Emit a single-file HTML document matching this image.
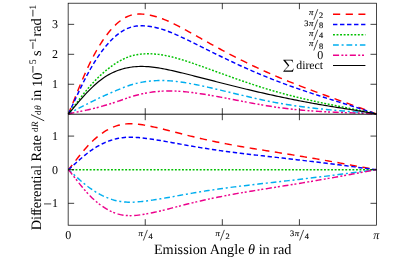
<!DOCTYPE html>
<html><head><meta charset="utf-8"><title>plot</title>
<style>
html,body{margin:0;padding:0;background:#fff;}
svg{display:block;will-change:transform;text-rendering:geometricPrecision;font-family:"Liberation Serif",serif;}
</style></head><body>
<svg width="416" height="261" viewBox="0 0 416 261">
<rect width="416" height="261" fill="#fff"/>
<g fill="none" stroke-linecap="butt" stroke-linejoin="round">
<path d="M68.40,114.00 L70.40,109.13 L72.40,104.18 L74.40,99.20 L76.40,94.22 L78.40,89.29 L80.40,84.43 L82.40,79.69 L84.41,75.07 L86.41,70.59 L88.41,66.27 L90.41,62.11 L92.41,58.13 L94.41,54.35 L96.41,50.75 L98.41,47.32 L100.41,44.08 L102.41,41.00 L104.41,38.09 L106.41,35.33 L108.41,32.74 L110.41,30.31 L112.41,28.04 L114.41,25.95 L116.42,24.03 L118.42,22.28 L120.42,20.70 L122.42,19.30 L124.42,18.07 L126.42,17.01 L128.42,16.12 L130.42,15.39 L132.42,14.83 L134.42,14.43 L136.42,14.17 L138.42,14.05 L140.42,14.04 L142.42,14.14 L144.42,14.32 L146.43,14.57 L148.43,14.89 L150.43,15.28 L152.43,15.72 L154.43,16.22 L156.43,16.78 L158.43,17.39 L160.43,18.07 L162.43,18.80 L164.43,19.58 L166.43,20.41 L168.43,21.28 L170.43,22.20 L172.43,23.15 L174.43,24.13 L176.44,25.15 L178.44,26.18 L180.44,27.23 L182.44,28.30 L184.44,29.38 L186.44,30.46 L188.44,31.56 L190.44,32.66 L192.44,33.77 L194.44,34.88 L196.44,35.99 L198.44,37.11 L200.44,38.23 L202.44,39.35 L204.44,40.46 L206.44,41.58 L208.45,42.69 L210.45,43.80 L212.45,44.90 L214.45,45.99 L216.45,47.09 L218.45,48.17 L220.45,49.25 L222.45,50.32 L224.45,51.39 L226.45,52.45 L228.45,53.51 L230.45,54.55 L232.45,55.59 L234.45,56.62 L236.45,57.65 L238.46,58.66 L240.46,59.67 L242.46,60.67 L244.46,61.66 L246.46,62.64 L248.46,63.62 L250.46,64.58 L252.46,65.54 L254.46,66.49 L256.46,67.43 L258.46,68.36 L260.46,69.28 L262.46,70.19 L264.46,71.10 L266.46,72.00 L268.46,72.89 L270.47,73.77 L272.47,74.64 L274.47,75.50 L276.47,76.36 L278.47,77.21 L280.47,78.05 L282.47,78.88 L284.47,79.70 L286.47,80.52 L288.47,81.33 L290.47,82.13 L292.47,82.93 L294.47,83.72 L296.47,84.51 L298.47,85.28 L300.48,86.06 L302.48,86.83 L304.48,87.59 L306.48,88.35 L308.48,89.11 L310.48,89.86 L312.48,90.61 L314.48,91.35 L316.48,92.09 L318.48,92.83 L320.48,93.56 L322.48,94.29 L324.48,95.02 L326.48,95.75 L328.48,96.48 L330.49,97.20 L332.49,97.93 L334.49,98.65 L336.49,99.37 L338.49,100.09 L340.49,100.81 L342.49,101.53 L344.49,102.25 L346.49,102.97 L348.49,103.69 L350.49,104.42 L352.49,105.14 L354.49,105.87 L356.49,106.59 L358.49,107.32 L360.49,108.05 L362.50,108.79 L364.50,109.52 L366.50,110.26 L368.50,111.00 L370.50,111.75 L372.50,112.49 L374.50,113.25 L376.50,114.00" stroke="#ff0000" stroke-width="1.45" stroke-dasharray="7.2 5.5" stroke-dashoffset="0.8"/>
<path d="M68.40,114.00 L70.40,109.76 L72.40,105.47 L74.40,101.16 L76.40,96.85 L78.40,92.58 L80.40,88.38 L82.40,84.27 L84.41,80.27 L86.41,76.38 L88.41,72.63 L90.41,69.01 L92.41,65.55 L94.41,62.24 L96.41,59.10 L98.41,56.10 L100.41,53.25 L102.41,50.54 L104.41,47.97 L106.41,45.53 L108.41,43.23 L110.41,41.07 L112.41,39.04 L114.41,37.16 L116.42,35.42 L118.42,33.83 L120.42,32.38 L122.42,31.08 L124.42,29.93 L126.42,28.92 L128.42,28.06 L130.42,27.34 L132.42,26.77 L134.42,26.35 L136.42,26.05 L138.42,25.86 L140.42,25.79 L142.42,25.80 L144.42,25.90 L146.43,26.06 L148.43,26.29 L150.43,26.57 L152.43,26.90 L154.43,27.29 L156.43,27.73 L158.43,28.23 L160.43,28.78 L162.43,29.39 L164.43,30.04 L166.43,30.74 L168.43,31.49 L170.43,32.27 L172.43,33.09 L174.43,33.93 L176.44,34.81 L178.44,35.71 L180.44,36.63 L182.44,37.56 L184.44,38.50 L186.44,39.46 L188.44,40.42 L190.44,41.40 L192.44,42.38 L194.44,43.37 L196.44,44.36 L198.44,45.35 L200.44,46.35 L202.44,47.35 L204.44,48.35 L206.44,49.35 L208.45,50.35 L210.45,51.35 L212.45,52.34 L214.45,53.32 L216.45,54.31 L218.45,55.29 L220.45,56.26 L222.45,57.24 L224.45,58.20 L226.45,59.16 L228.45,60.12 L230.45,61.07 L232.45,62.01 L234.45,62.95 L236.45,63.88 L238.46,64.80 L240.46,65.72 L242.46,66.63 L244.46,67.53 L246.46,68.42 L248.46,69.31 L250.46,70.19 L252.46,71.06 L254.46,71.92 L256.46,72.78 L258.46,73.62 L260.46,74.46 L262.46,75.30 L264.46,76.12 L266.46,76.93 L268.46,77.74 L270.47,78.54 L272.47,79.33 L274.47,80.11 L276.47,80.88 L278.47,81.64 L280.47,82.40 L282.47,83.15 L284.47,83.89 L286.47,84.62 L288.47,85.35 L290.47,86.07 L292.47,86.78 L294.47,87.48 L296.47,88.18 L298.47,88.88 L300.48,89.57 L302.48,90.25 L304.48,90.93 L306.48,91.60 L308.48,92.27 L310.48,92.93 L312.48,93.59 L314.48,94.24 L316.48,94.89 L318.48,95.54 L320.48,96.19 L322.48,96.83 L324.48,97.47 L326.48,98.11 L328.48,98.74 L330.49,99.37 L332.49,100.00 L334.49,100.63 L336.49,101.26 L338.49,101.89 L340.49,102.52 L342.49,103.14 L344.49,103.77 L346.49,104.39 L348.49,105.02 L350.49,105.64 L352.49,106.27 L354.49,106.90 L356.49,107.53 L358.49,108.16 L360.49,108.80 L362.50,109.44 L364.50,110.08 L366.50,110.72 L368.50,111.37 L370.50,112.02 L372.50,112.67 L374.50,113.33 L376.50,114.00" stroke="#0000ff" stroke-width="1.45" stroke-dasharray="4.4 2.62" stroke-dashoffset="0"/>
<path d="M68.40,114.00 L70.40,111.30 L72.40,108.60 L74.40,105.89 L76.40,103.19 L78.40,100.53 L80.40,97.90 L82.40,95.33 L84.41,92.81 L86.41,90.36 L88.41,87.98 L90.41,85.67 L92.41,83.45 L94.41,81.31 L96.41,79.25 L98.41,77.28 L100.41,75.38 L102.41,73.57 L104.41,71.82 L106.41,70.15 L108.41,68.56 L110.41,67.04 L112.41,65.59 L114.41,64.22 L116.42,62.93 L118.42,61.71 L120.42,60.57 L122.42,59.52 L124.42,58.55 L126.42,57.68 L128.42,56.89 L130.42,56.20 L132.42,55.61 L134.42,55.11 L136.42,54.71 L138.42,54.39 L140.42,54.15 L142.42,53.98 L144.42,53.86 L146.43,53.80 L148.43,53.79 L150.43,53.82 L152.43,53.90 L154.43,54.02 L156.43,54.19 L158.43,54.40 L160.43,54.66 L162.43,54.96 L164.43,55.31 L166.43,55.69 L168.43,56.12 L170.43,56.58 L172.43,57.07 L174.43,57.59 L176.44,58.14 L178.44,58.71 L180.44,59.30 L182.44,59.91 L184.44,60.54 L186.44,61.18 L188.44,61.83 L190.44,62.50 L192.44,63.18 L194.44,63.86 L196.44,64.56 L198.44,65.26 L200.44,65.97 L202.44,66.68 L204.44,67.40 L206.44,68.12 L208.45,68.84 L210.45,69.57 L212.45,70.29 L214.45,71.02 L216.45,71.75 L218.45,72.47 L220.45,73.20 L222.45,73.92 L224.45,74.64 L226.45,75.36 L228.45,76.08 L230.45,76.79 L232.45,77.51 L234.45,78.21 L236.45,78.92 L238.46,79.62 L240.46,80.32 L242.46,81.01 L244.46,81.70 L246.46,82.38 L248.46,83.05 L250.46,83.72 L252.46,84.39 L254.46,85.05 L256.46,85.70 L258.46,86.34 L260.46,86.98 L262.46,87.61 L264.46,88.23 L266.46,88.85 L268.46,89.45 L270.47,90.05 L272.47,90.64 L274.47,91.22 L276.47,91.80 L278.47,92.36 L280.47,92.91 L282.47,93.46 L284.47,94.00 L286.47,94.53 L288.47,95.05 L290.47,95.56 L292.47,96.07 L294.47,96.57 L296.47,97.06 L298.47,97.55 L300.48,98.03 L302.48,98.50 L304.48,98.97 L306.48,99.43 L308.48,99.89 L310.48,100.34 L312.48,100.79 L314.48,101.23 L316.48,101.67 L318.48,102.10 L320.48,102.53 L322.48,102.95 L324.48,103.37 L326.48,103.79 L328.48,104.20 L330.49,104.62 L332.49,105.02 L334.49,105.43 L336.49,105.83 L338.49,106.23 L340.49,106.63 L342.49,107.03 L344.49,107.42 L346.49,107.82 L348.49,108.21 L350.49,108.61 L352.49,109.00 L354.49,109.40 L356.49,109.79 L358.49,110.19 L360.49,110.59 L362.50,111.00 L364.50,111.41 L366.50,111.83 L368.50,112.25 L370.50,112.67 L372.50,113.11 L374.50,113.55 L376.50,114.00" stroke="#00c000" stroke-width="1.45" stroke-dasharray="1.9 1.65" stroke-dashoffset="0"/>
<path d="M68.40,114.00 L70.40,112.84 L72.40,111.72 L74.40,110.62 L76.40,109.54 L78.40,108.47 L80.40,107.42 L82.40,106.39 L84.41,105.36 L86.41,104.34 L88.41,103.33 L90.41,102.33 L92.41,101.35 L94.41,100.37 L96.41,99.41 L98.41,98.46 L100.41,97.52 L102.41,96.59 L104.41,95.68 L106.41,94.78 L108.41,93.89 L110.41,93.01 L112.41,92.14 L114.41,91.28 L116.42,90.43 L118.42,89.59 L120.42,88.77 L122.42,87.96 L124.42,87.18 L126.42,86.43 L128.42,85.72 L130.42,85.05 L132.42,84.44 L134.42,83.88 L136.42,83.37 L138.42,82.92 L140.42,82.51 L142.42,82.15 L144.42,81.83 L146.43,81.54 L148.43,81.29 L150.43,81.07 L152.43,80.89 L154.43,80.75 L156.43,80.64 L158.43,80.57 L160.43,80.53 L162.43,80.53 L164.43,80.57 L166.43,80.64 L168.43,80.75 L170.43,80.89 L172.43,81.05 L174.43,81.25 L176.44,81.47 L178.44,81.72 L180.44,81.98 L182.44,82.27 L184.44,82.58 L186.44,82.90 L188.44,83.24 L190.44,83.60 L192.44,83.97 L194.44,84.36 L196.44,84.75 L198.44,85.16 L200.44,85.58 L202.44,86.01 L204.44,86.45 L206.44,86.89 L208.45,87.34 L210.45,87.79 L212.45,88.25 L214.45,88.72 L216.45,89.18 L218.45,89.65 L220.45,90.13 L222.45,90.60 L224.45,91.08 L226.45,91.56 L228.45,92.04 L230.45,92.52 L232.45,93.00 L234.45,93.48 L236.45,93.96 L238.46,94.44 L240.46,94.92 L242.46,95.39 L244.46,95.86 L246.46,96.33 L248.46,96.80 L250.46,97.26 L252.46,97.72 L254.46,98.17 L256.46,98.62 L258.46,99.06 L260.46,99.50 L262.46,99.93 L264.46,100.35 L266.46,100.76 L268.46,101.17 L270.47,101.57 L272.47,101.96 L274.47,102.34 L276.47,102.71 L278.47,103.08 L280.47,103.43 L282.47,103.77 L284.47,104.11 L286.47,104.43 L288.47,104.75 L290.47,105.06 L292.47,105.36 L294.47,105.66 L296.47,105.95 L298.47,106.22 L300.48,106.50 L302.48,106.76 L304.48,107.02 L306.48,107.27 L308.48,107.52 L310.48,107.76 L312.48,107.99 L314.48,108.22 L316.48,108.44 L318.48,108.66 L320.48,108.87 L322.48,109.07 L324.48,109.28 L326.48,109.47 L328.48,109.67 L330.49,109.86 L332.49,110.04 L334.49,110.22 L336.49,110.40 L338.49,110.58 L340.49,110.75 L342.49,110.92 L344.49,111.08 L346.49,111.25 L348.49,111.41 L350.49,111.57 L352.49,111.73 L354.49,111.89 L356.49,112.05 L358.49,112.22 L360.49,112.39 L362.50,112.56 L364.50,112.75 L366.50,112.93 L368.50,113.13 L370.50,113.33 L372.50,113.54 L374.50,113.77 L376.50,114.00" stroke="#00aeef" stroke-width="1.45" stroke-dasharray="5.8 2.8 2.0 2.85" stroke-dashoffset="1.85"/>
<path d="M68.40,114.00 L70.40,113.48 L72.40,113.01 L74.40,112.58 L76.40,112.17 L78.40,111.77 L80.40,111.37 L82.40,110.97 L84.41,110.55 L86.41,110.13 L88.41,109.69 L90.41,109.23 L92.41,108.76 L94.41,108.27 L96.41,107.76 L98.41,107.23 L100.41,106.69 L102.41,106.13 L104.41,105.56 L106.41,104.98 L108.41,104.38 L110.41,103.76 L112.41,103.13 L114.41,102.49 L116.42,101.82 L118.42,101.14 L120.42,100.45 L122.42,99.74 L124.42,99.04 L126.42,98.34 L128.42,97.66 L130.42,97.00 L132.42,96.38 L134.42,95.79 L136.42,95.25 L138.42,94.74 L140.42,94.26 L142.42,93.82 L144.42,93.41 L146.43,93.03 L148.43,92.68 L150.43,92.36 L152.43,92.08 L154.43,91.82 L156.43,91.60 L158.43,91.41 L160.43,91.25 L162.43,91.13 L164.43,91.04 L166.43,90.98 L168.43,90.95 L170.43,90.96 L172.43,90.99 L174.43,91.05 L176.44,91.13 L178.44,91.24 L180.44,91.38 L182.44,91.53 L184.44,91.71 L186.44,91.90 L188.44,92.11 L190.44,92.34 L192.44,92.59 L194.44,92.85 L196.44,93.12 L198.44,93.41 L200.44,93.71 L202.44,94.02 L204.44,94.34 L206.44,94.66 L208.45,95.00 L210.45,95.34 L212.45,95.69 L214.45,96.05 L216.45,96.41 L218.45,96.77 L220.45,97.14 L222.45,97.51 L224.45,97.89 L226.45,98.27 L228.45,98.65 L230.45,99.04 L232.45,99.42 L234.45,99.81 L236.45,100.19 L238.46,100.58 L240.46,100.96 L242.46,101.35 L244.46,101.73 L246.46,102.11 L248.46,102.49 L250.46,102.87 L252.46,103.24 L254.46,103.61 L256.46,103.97 L258.46,104.33 L260.46,104.68 L262.46,105.03 L264.46,105.37 L266.46,105.70 L268.46,106.02 L270.47,106.34 L272.47,106.65 L274.47,106.95 L276.47,107.24 L278.47,107.51 L280.47,107.78 L282.47,108.04 L284.47,108.30 L286.47,108.54 L288.47,108.77 L290.47,109.00 L292.47,109.21 L294.47,109.42 L296.47,109.62 L298.47,109.82 L300.48,110.00 L302.48,110.18 L304.48,110.35 L306.48,110.52 L308.48,110.68 L310.48,110.83 L312.48,110.97 L314.48,111.11 L316.48,111.24 L318.48,111.37 L320.48,111.49 L322.48,111.61 L324.48,111.72 L326.48,111.83 L328.48,111.93 L330.49,112.03 L332.49,112.12 L334.49,112.21 L336.49,112.29 L338.49,112.38 L340.49,112.45 L342.49,112.53 L344.49,112.60 L346.49,112.66 L348.49,112.73 L350.49,112.79 L352.49,112.86 L354.49,112.92 L356.49,112.99 L358.49,113.06 L360.49,113.13 L362.50,113.21 L364.50,113.30 L366.50,113.39 L368.50,113.49 L370.50,113.60 L372.50,113.72 L374.50,113.86 L376.50,114.00" stroke="#ec008c" stroke-width="1.45" stroke-dasharray="6.1 2.3 2.0 1.8 2.0 2.6" stroke-dashoffset="0"/>
<path d="M68.40,114.00 L70.40,111.70 L72.40,109.35 L74.40,106.98 L76.40,104.59 L78.40,102.22 L80.40,99.88 L82.40,97.59 L84.41,95.36 L86.41,93.19 L88.41,91.09 L90.41,89.06 L92.41,87.11 L94.41,85.25 L96.41,83.47 L98.41,81.79 L100.41,80.20 L102.41,78.71 L104.41,77.33 L106.41,76.04 L108.41,74.85 L110.41,73.76 L112.41,72.75 L114.41,71.84 L116.42,71.01 L118.42,70.25 L120.42,69.58 L122.42,68.97 L124.42,68.44 L126.42,67.98 L128.42,67.58 L130.42,67.25 L132.42,66.97 L134.42,66.76 L136.42,66.61 L138.42,66.51 L140.42,66.46 L142.42,66.46 L144.42,66.50 L146.43,66.59 L148.43,66.72 L150.43,66.89 L152.43,67.10 L154.43,67.34 L156.43,67.62 L158.43,67.92 L160.43,68.25 L162.43,68.60 L164.43,68.98 L166.43,69.37 L168.43,69.79 L170.43,70.22 L172.43,70.66 L174.43,71.12 L176.44,71.59 L178.44,72.06 L180.44,72.55 L182.44,73.04 L184.44,73.53 L186.44,74.03 L188.44,74.53 L190.44,75.03 L192.44,75.54 L194.44,76.05 L196.44,76.56 L198.44,77.07 L200.44,77.58 L202.44,78.10 L204.44,78.61 L206.44,79.13 L208.45,79.65 L210.45,80.16 L212.45,80.68 L214.45,81.19 L216.45,81.71 L218.45,82.22 L220.45,82.73 L222.45,83.25 L224.45,83.76 L226.45,84.26 L228.45,84.77 L230.45,85.28 L232.45,85.78 L234.45,86.28 L236.45,86.78 L238.46,87.27 L240.46,87.76 L242.46,88.25 L244.46,88.74 L246.46,89.22 L248.46,89.70 L250.46,90.17 L252.46,90.65 L254.46,91.12 L256.46,91.58 L258.46,92.05 L260.46,92.51 L262.46,92.96 L264.46,93.41 L266.46,93.86 L268.46,94.31 L270.47,94.75 L272.47,95.19 L274.47,95.63 L276.47,96.06 L278.47,96.49 L280.47,96.92 L282.47,97.34 L284.47,97.76 L286.47,98.18 L288.47,98.59 L290.47,98.99 L292.47,99.40 L294.47,99.80 L296.47,100.20 L298.47,100.59 L300.48,100.98 L302.48,101.36 L304.48,101.74 L306.48,102.12 L308.48,102.49 L310.48,102.86 L312.48,103.22 L314.48,103.58 L316.48,103.94 L318.48,104.29 L320.48,104.64 L322.48,104.98 L324.48,105.32 L326.48,105.66 L328.48,106.00 L330.49,106.33 L332.49,106.66 L334.49,106.99 L336.49,107.31 L338.49,107.63 L340.49,107.95 L342.49,108.27 L344.49,108.59 L346.49,108.90 L348.49,109.22 L350.49,109.53 L352.49,109.84 L354.49,110.16 L356.49,110.48 L358.49,110.80 L360.49,111.13 L362.50,111.46 L364.50,111.80 L366.50,112.14 L368.50,112.49 L370.50,112.86 L372.50,113.23 L374.50,113.61 L376.50,114.00" stroke="#000" stroke-width="1.2"/>
<path d="M68.40,169.70 L70.40,167.25 L72.40,164.73 L74.40,162.17 L76.40,159.60 L78.40,157.04 L80.40,154.53 L82.40,152.09 L84.41,149.72 L86.41,147.43 L88.41,145.25 L90.41,143.16 L92.41,141.19 L94.41,139.33 L96.41,137.59 L98.41,135.96 L100.41,134.44 L102.41,133.02 L104.41,131.70 L106.41,130.48 L108.41,129.35 L110.41,128.33 L112.41,127.41 L114.41,126.60 L116.42,125.89 L118.42,125.28 L120.42,124.79 L122.42,124.40 L124.42,124.10 L126.42,123.90 L128.42,123.78 L130.42,123.74 L132.42,123.77 L134.42,123.88 L136.42,124.04 L138.42,124.26 L140.42,124.52 L142.42,124.82 L144.42,125.16 L146.43,125.51 L148.43,125.89 L150.43,126.29 L152.43,126.70 L154.43,127.12 L156.43,127.56 L158.43,128.02 L160.43,128.48 L162.43,128.96 L164.43,129.45 L166.43,129.95 L168.43,130.46 L170.43,130.98 L172.43,131.49 L174.43,132.01 L176.44,132.54 L178.44,133.06 L180.44,133.57 L182.44,134.09 L184.44,134.60 L186.44,135.10 L188.44,135.60 L190.44,136.09 L192.44,136.57 L194.44,137.05 L196.44,137.53 L198.44,137.99 L200.44,138.46 L202.44,138.91 L204.44,139.36 L206.44,139.80 L208.45,140.24 L210.45,140.67 L212.45,141.09 L214.45,141.51 L216.45,141.92 L218.45,142.33 L220.45,142.73 L222.45,143.12 L224.45,143.51 L226.45,143.90 L228.45,144.27 L230.45,144.65 L232.45,145.02 L234.45,145.38 L236.45,145.74 L238.46,146.09 L240.46,146.44 L242.46,146.79 L244.46,147.13 L246.46,147.47 L248.46,147.81 L250.46,148.14 L252.46,148.47 L254.46,148.79 L256.46,149.12 L258.46,149.44 L260.46,149.76 L262.46,150.08 L264.46,150.40 L266.46,150.72 L268.46,151.04 L270.47,151.36 L272.47,151.67 L274.47,151.99 L276.47,152.31 L278.47,152.63 L280.47,152.95 L282.47,153.27 L284.47,153.60 L286.47,153.92 L288.47,154.24 L290.47,154.57 L292.47,154.90 L294.47,155.22 L296.47,155.55 L298.47,155.88 L300.48,156.22 L302.48,156.55 L304.48,156.88 L306.48,157.22 L308.48,157.55 L310.48,157.89 L312.48,158.23 L314.48,158.57 L316.48,158.91 L318.48,159.26 L320.48,159.60 L322.48,159.95 L324.48,160.30 L326.48,160.65 L328.48,161.00 L330.49,161.35 L332.49,161.70 L334.49,162.06 L336.49,162.42 L338.49,162.78 L340.49,163.14 L342.49,163.51 L344.49,163.87 L346.49,164.24 L348.49,164.61 L350.49,164.98 L352.49,165.35 L354.49,165.73 L356.49,166.10 L358.49,166.47 L360.49,166.84 L362.50,167.21 L364.50,167.57 L366.50,167.94 L368.50,168.30 L370.50,168.66 L372.50,169.01 L374.50,169.36 L376.50,169.70" stroke="#ff0000" stroke-width="1.45" stroke-dasharray="7.2 5.5" stroke-dashoffset="1.1"/>
<path d="M68.40,169.70 L70.40,167.96 L72.40,166.18 L74.40,164.37 L76.40,162.55 L78.40,160.75 L80.40,158.97 L82.40,157.24 L84.41,155.57 L86.41,153.96 L88.41,152.41 L90.41,150.93 L92.41,149.54 L94.41,148.23 L96.41,146.99 L98.41,145.84 L100.41,144.77 L102.41,143.76 L104.41,142.83 L106.41,141.96 L108.41,141.17 L110.41,140.45 L112.41,139.80 L114.41,139.22 L116.42,138.72 L118.42,138.29 L120.42,137.94 L122.42,137.67 L124.42,137.46 L126.42,137.31 L128.42,137.23 L130.42,137.20 L132.42,137.23 L134.42,137.30 L136.42,137.41 L138.42,137.57 L140.42,137.75 L142.42,137.97 L144.42,138.20 L146.43,138.46 L148.43,138.72 L150.43,139.00 L152.43,139.29 L154.43,139.59 L156.43,139.90 L158.43,140.23 L160.43,140.56 L162.43,140.90 L164.43,141.24 L166.43,141.60 L168.43,141.95 L170.43,142.32 L172.43,142.68 L174.43,143.05 L176.44,143.42 L178.44,143.79 L180.44,144.16 L182.44,144.52 L184.44,144.88 L186.44,145.23 L188.44,145.59 L190.44,145.93 L192.44,146.28 L194.44,146.62 L196.44,146.95 L198.44,147.28 L200.44,147.61 L202.44,147.93 L204.44,148.25 L206.44,148.56 L208.45,148.87 L210.45,149.17 L212.45,149.47 L214.45,149.77 L216.45,150.06 L218.45,150.35 L220.45,150.63 L222.45,150.91 L224.45,151.18 L226.45,151.45 L228.45,151.72 L230.45,151.99 L232.45,152.25 L234.45,152.50 L236.45,152.76 L238.46,153.01 L240.46,153.26 L242.46,153.50 L244.46,153.74 L246.46,153.98 L248.46,154.22 L250.46,154.45 L252.46,154.69 L254.46,154.92 L256.46,155.15 L258.46,155.37 L260.46,155.60 L262.46,155.83 L264.46,156.05 L266.46,156.28 L268.46,156.50 L270.47,156.73 L272.47,156.95 L274.47,157.18 L276.47,157.40 L278.47,157.63 L280.47,157.86 L282.47,158.08 L284.47,158.31 L286.47,158.54 L288.47,158.77 L290.47,159.00 L292.47,159.23 L294.47,159.46 L296.47,159.70 L298.47,159.93 L300.48,160.16 L302.48,160.40 L304.48,160.64 L306.48,160.87 L308.48,161.11 L310.48,161.35 L312.48,161.59 L314.48,161.83 L316.48,162.07 L318.48,162.31 L320.48,162.56 L322.48,162.80 L324.48,163.05 L326.48,163.30 L328.48,163.55 L330.49,163.80 L332.49,164.05 L334.49,164.30 L336.49,164.55 L338.49,164.81 L340.49,165.06 L342.49,165.32 L344.49,165.58 L346.49,165.84 L348.49,166.10 L350.49,166.36 L352.49,166.63 L354.49,166.89 L356.49,167.15 L358.49,167.42 L360.49,167.68 L362.50,167.94 L364.50,168.20 L366.50,168.45 L368.50,168.71 L370.50,168.96 L372.50,169.21 L374.50,169.46 L376.50,169.70" stroke="#0000ff" stroke-width="1.45" stroke-dasharray="4.4 2.62" stroke-dashoffset="0"/>
<path d="M68.40,169.70 L70.40,169.70 L72.40,169.70 L74.40,169.70 L76.40,169.70 L78.40,169.70 L80.40,169.70 L82.40,169.70 L84.41,169.70 L86.41,169.70 L88.41,169.70 L90.41,169.70 L92.41,169.70 L94.41,169.70 L96.41,169.70 L98.41,169.70 L100.41,169.70 L102.41,169.70 L104.41,169.70 L106.41,169.70 L108.41,169.70 L110.41,169.70 L112.41,169.70 L114.41,169.70 L116.42,169.70 L118.42,169.70 L120.42,169.70 L122.42,169.70 L124.42,169.70 L126.42,169.70 L128.42,169.70 L130.42,169.70 L132.42,169.70 L134.42,169.70 L136.42,169.70 L138.42,169.70 L140.42,169.70 L142.42,169.70 L144.42,169.70 L146.43,169.70 L148.43,169.70 L150.43,169.70 L152.43,169.70 L154.43,169.70 L156.43,169.70 L158.43,169.70 L160.43,169.70 L162.43,169.70 L164.43,169.70 L166.43,169.70 L168.43,169.70 L170.43,169.70 L172.43,169.70 L174.43,169.70 L176.44,169.70 L178.44,169.70 L180.44,169.70 L182.44,169.70 L184.44,169.70 L186.44,169.70 L188.44,169.70 L190.44,169.70 L192.44,169.70 L194.44,169.70 L196.44,169.70 L198.44,169.70 L200.44,169.70 L202.44,169.70 L204.44,169.70 L206.44,169.70 L208.45,169.70 L210.45,169.70 L212.45,169.70 L214.45,169.70 L216.45,169.70 L218.45,169.70 L220.45,169.70 L222.45,169.70 L224.45,169.70 L226.45,169.70 L228.45,169.70 L230.45,169.70 L232.45,169.70 L234.45,169.70 L236.45,169.70 L238.46,169.70 L240.46,169.70 L242.46,169.70 L244.46,169.70 L246.46,169.70 L248.46,169.70 L250.46,169.70 L252.46,169.70 L254.46,169.70 L256.46,169.70 L258.46,169.70 L260.46,169.70 L262.46,169.70 L264.46,169.70 L266.46,169.70 L268.46,169.70 L270.47,169.70 L272.47,169.70 L274.47,169.70 L276.47,169.70 L278.47,169.70 L280.47,169.70 L282.47,169.70 L284.47,169.70 L286.47,169.70 L288.47,169.70 L290.47,169.70 L292.47,169.70 L294.47,169.70 L296.47,169.70 L298.47,169.70 L300.48,169.70 L302.48,169.70 L304.48,169.70 L306.48,169.70 L308.48,169.70 L310.48,169.70 L312.48,169.70 L314.48,169.70 L316.48,169.70 L318.48,169.70 L320.48,169.70 L322.48,169.70 L324.48,169.70 L326.48,169.70 L328.48,169.70 L330.49,169.70 L332.49,169.70 L334.49,169.70 L336.49,169.70 L338.49,169.70 L340.49,169.70 L342.49,169.70 L344.49,169.70 L346.49,169.70 L348.49,169.70 L350.49,169.70 L352.49,169.70 L354.49,169.70 L356.49,169.70 L358.49,169.70 L360.49,169.70 L362.50,169.70 L364.50,169.70 L366.50,169.70 L368.50,169.70 L370.50,169.70 L372.50,169.70 L374.50,169.70 L376.50,169.70" stroke="#00c000" stroke-width="1.45" stroke-dasharray="1.9 1.65" stroke-dashoffset="0"/>
<path d="M68.40,169.70 L70.40,171.44 L72.40,173.22 L74.40,175.03 L76.40,176.85 L78.40,178.65 L80.40,180.43 L82.40,182.16 L84.41,183.83 L86.41,185.44 L88.41,186.99 L90.41,188.47 L92.41,189.86 L94.41,191.17 L96.41,192.41 L98.41,193.56 L100.41,194.63 L102.41,195.64 L104.41,196.57 L106.41,197.44 L108.41,198.23 L110.41,198.95 L112.41,199.60 L114.41,200.18 L116.42,200.68 L118.42,201.11 L120.42,201.46 L122.42,201.73 L124.42,201.94 L126.42,202.09 L128.42,202.17 L130.42,202.20 L132.42,202.17 L134.42,202.10 L136.42,201.99 L138.42,201.83 L140.42,201.65 L142.42,201.43 L144.42,201.20 L146.43,200.94 L148.43,200.68 L150.43,200.40 L152.43,200.11 L154.43,199.81 L156.43,199.50 L158.43,199.17 L160.43,198.84 L162.43,198.50 L164.43,198.16 L166.43,197.80 L168.43,197.45 L170.43,197.08 L172.43,196.72 L174.43,196.35 L176.44,195.98 L178.44,195.61 L180.44,195.24 L182.44,194.88 L184.44,194.52 L186.44,194.17 L188.44,193.81 L190.44,193.47 L192.44,193.12 L194.44,192.78 L196.44,192.45 L198.44,192.12 L200.44,191.79 L202.44,191.47 L204.44,191.15 L206.44,190.84 L208.45,190.53 L210.45,190.23 L212.45,189.93 L214.45,189.63 L216.45,189.34 L218.45,189.05 L220.45,188.77 L222.45,188.49 L224.45,188.22 L226.45,187.95 L228.45,187.68 L230.45,187.41 L232.45,187.15 L234.45,186.90 L236.45,186.64 L238.46,186.39 L240.46,186.14 L242.46,185.90 L244.46,185.66 L246.46,185.42 L248.46,185.18 L250.46,184.95 L252.46,184.71 L254.46,184.48 L256.46,184.25 L258.46,184.03 L260.46,183.80 L262.46,183.57 L264.46,183.35 L266.46,183.12 L268.46,182.90 L270.47,182.67 L272.47,182.45 L274.47,182.22 L276.47,182.00 L278.47,181.77 L280.47,181.54 L282.47,181.32 L284.47,181.09 L286.47,180.86 L288.47,180.63 L290.47,180.40 L292.47,180.17 L294.47,179.94 L296.47,179.70 L298.47,179.47 L300.48,179.24 L302.48,179.00 L304.48,178.76 L306.48,178.53 L308.48,178.29 L310.48,178.05 L312.48,177.81 L314.48,177.57 L316.48,177.33 L318.48,177.09 L320.48,176.84 L322.48,176.60 L324.48,176.35 L326.48,176.10 L328.48,175.85 L330.49,175.60 L332.49,175.35 L334.49,175.10 L336.49,174.85 L338.49,174.59 L340.49,174.34 L342.49,174.08 L344.49,173.82 L346.49,173.56 L348.49,173.30 L350.49,173.04 L352.49,172.77 L354.49,172.51 L356.49,172.25 L358.49,171.98 L360.49,171.72 L362.50,171.46 L364.50,171.20 L366.50,170.95 L368.50,170.69 L370.50,170.44 L372.50,170.19 L374.50,169.94 L376.50,169.70" stroke="#00aeef" stroke-width="1.45" stroke-dasharray="5.8 2.8 2.0 2.85" stroke-dashoffset="1.6"/>
<path d="M68.40,169.70 L70.40,172.15 L72.40,174.67 L74.40,177.23 L76.40,179.80 L78.40,182.36 L80.40,184.87 L82.40,187.31 L84.41,189.68 L86.41,191.97 L88.41,194.15 L90.41,196.24 L92.41,198.21 L94.41,200.07 L96.41,201.81 L98.41,203.44 L100.41,204.96 L102.41,206.38 L104.41,207.70 L106.41,208.92 L108.41,210.05 L110.41,211.07 L112.41,211.99 L114.41,212.80 L116.42,213.51 L118.42,214.12 L120.42,214.61 L122.42,215.00 L124.42,215.30 L126.42,215.50 L128.42,215.62 L130.42,215.66 L132.42,215.63 L134.42,215.52 L136.42,215.36 L138.42,215.14 L140.42,214.88 L142.42,214.58 L144.42,214.24 L146.43,213.89 L148.43,213.51 L150.43,213.11 L152.43,212.70 L154.43,212.28 L156.43,211.84 L158.43,211.38 L160.43,210.92 L162.43,210.44 L164.43,209.95 L166.43,209.45 L168.43,208.94 L170.43,208.42 L172.43,207.91 L174.43,207.39 L176.44,206.86 L178.44,206.34 L180.44,205.83 L182.44,205.31 L184.44,204.80 L186.44,204.30 L188.44,203.80 L190.44,203.31 L192.44,202.83 L194.44,202.35 L196.44,201.87 L198.44,201.41 L200.44,200.94 L202.44,200.49 L204.44,200.04 L206.44,199.60 L208.45,199.16 L210.45,198.73 L212.45,198.31 L214.45,197.89 L216.45,197.48 L218.45,197.07 L220.45,196.67 L222.45,196.28 L224.45,195.89 L226.45,195.50 L228.45,195.13 L230.45,194.75 L232.45,194.38 L234.45,194.02 L236.45,193.66 L238.46,193.31 L240.46,192.96 L242.46,192.61 L244.46,192.27 L246.46,191.93 L248.46,191.59 L250.46,191.26 L252.46,190.93 L254.46,190.61 L256.46,190.28 L258.46,189.96 L260.46,189.64 L262.46,189.32 L264.46,189.00 L266.46,188.68 L268.46,188.36 L270.47,188.04 L272.47,187.73 L274.47,187.41 L276.47,187.09 L278.47,186.77 L280.47,186.45 L282.47,186.13 L284.47,185.80 L286.47,185.48 L288.47,185.16 L290.47,184.83 L292.47,184.50 L294.47,184.18 L296.47,183.85 L298.47,183.52 L300.48,183.18 L302.48,182.85 L304.48,182.52 L306.48,182.18 L308.48,181.85 L310.48,181.51 L312.48,181.17 L314.48,180.83 L316.48,180.49 L318.48,180.14 L320.48,179.80 L322.48,179.45 L324.48,179.10 L326.48,178.75 L328.48,178.40 L330.49,178.05 L332.49,177.70 L334.49,177.34 L336.49,176.98 L338.49,176.62 L340.49,176.26 L342.49,175.89 L344.49,175.53 L346.49,175.16 L348.49,174.79 L350.49,174.42 L352.49,174.05 L354.49,173.67 L356.49,173.30 L358.49,172.93 L360.49,172.56 L362.50,172.19 L364.50,171.83 L366.50,171.46 L368.50,171.10 L370.50,170.74 L372.50,170.39 L374.50,170.04 L376.50,169.70" stroke="#ec008c" stroke-width="1.45" stroke-dasharray="6.1 2.3 2.0 1.8 2.0 2.6" stroke-dashoffset="0"/>
<path d="M333,14.25 H365.4" stroke="#ff0000" stroke-width="1.45" stroke-dasharray="7.2 5.5"/>
<path d="M333,24.5 H365.4" stroke="#0000ff" stroke-width="1.45" stroke-dasharray="4.4 2.62"/>
<path d="M333,34.75 H365.4" stroke="#00c000" stroke-width="1.45" stroke-dasharray="1.9 1.65"/>
<path d="M333,45.0 H365.4" stroke="#00aeef" stroke-width="1.45" stroke-dasharray="5.8 2.8 2.0 2.85"/>
<path d="M333,55.25 H365.4" stroke="#ec008c" stroke-width="1.45" stroke-dasharray="6.1 2.3 2.0 1.8 2.0 2.6"/>
<path d="M333,65.5 H365.4" stroke="#000" stroke-width="1.1"/>
</g>
<g fill="none" stroke="#000" stroke-width="0.72">
<rect x="68.15" y="3.2" width="308.35" height="222.0" />
<path d="M68.15,114.2 H376.5" stroke-width="0.95"/>
</g>
<g fill="none" stroke="#000" stroke-width="0.75">
<path d="M145.2375,225.2 v-6.0 M145.2375,114.2 v-6.0 M145.2375,114.2 v6.0 M145.2375,3.2 v6.0"/>
<path d="M222.32500000000002,225.2 v-6.0 M222.32500000000002,114.2 v-6.0 M222.32500000000002,114.2 v6.0 M222.32500000000002,3.2 v6.0"/>
<path d="M299.4125,225.2 v-6.0 M299.4125,114.2 v-6.0 M299.4125,114.2 v6.0 M299.4125,3.2 v6.0"/>
<path d="M68.15,84.25 h6.0 M376.5,84.25 h-6.0"/>
<path d="M68.15,54.30 h6.0 M376.5,54.30 h-6.0"/>
<path d="M68.15,24.35 h6.0 M376.5,24.35 h-6.0"/>
<path d="M68.15,203.32 h6.0 M376.5,203.32 h-6.0"/>
<path d="M68.15,169.70 h6.0 M376.5,169.70 h-6.0"/>
<path d="M68.15,136.08 h6.0 M376.5,136.08 h-6.0"/>
</g>
<g fill="none" stroke="#000">
<path d="M44,203.92 h7.2" stroke-width="0.75"/>
<path d="M143.35,240.50 L147.40,229.90" stroke-width="0.7"/>
<path d="M220.35,240.50 L224.40,229.90" stroke-width="0.7"/>
<path d="M299.60,240.50 L303.65,229.90" stroke-width="0.7"/>
<path d="M313.75,19.75 L317.80,9.15" stroke-width="0.7"/>
<path d="M313.75,30.00 L317.80,19.40" stroke-width="0.7"/>
<path d="M313.75,40.25 L317.80,29.65" stroke-width="0.7"/>
<path d="M313.75,50.50 L317.80,39.90" stroke-width="0.7"/>
</g>
<g fill="#000">
<text x="58.05" y="88.30" text-anchor="end" font-size="12.0">1</text>
<text x="58.05" y="58.35" text-anchor="end" font-size="12.0">2</text>
<text x="58.05" y="28.40" text-anchor="end" font-size="12.0">3</text>
<text x="58.05" y="207.37" text-anchor="end" font-size="12.0">1</text>
<text x="58.05" y="173.75" text-anchor="end" font-size="12.0">0</text>
<text x="58.05" y="140.13" text-anchor="end" font-size="12.0">1</text>
<text x="68.15" y="238.6" text-anchor="middle" font-size="12.0">0</text>
<text x="152.75" y="238.60" text-anchor="end" font-size="8.3" stroke="#000" stroke-width="0.15">4</text><text x="142.90" y="236.20" text-anchor="end" font-size="8.8" font-style="italic" stroke="#000" stroke-width="0.1">π</text>
<text x="229.75" y="238.60" text-anchor="end" font-size="8.3" stroke="#000" stroke-width="0.15">2</text><text x="219.90" y="236.20" text-anchor="end" font-size="8.8" font-style="italic" stroke="#000" stroke-width="0.1">π</text>
<text x="309.00" y="238.60" text-anchor="end" font-size="8.3" stroke="#000" stroke-width="0.15">4</text><text x="299.15" y="236.20" text-anchor="end" font-size="8.8" font-style="italic" stroke="#000" stroke-width="0.1">π</text><text x="294.25" y="236.20" text-anchor="end" font-size="8.3" stroke="#000" stroke-width="0.15">3</text>
<text x="376.2" y="238.6" text-anchor="middle" font-size="12.0" font-style="italic">π</text>
<text x="323.15" y="17.85" text-anchor="end" font-size="8.3" stroke="#000" stroke-width="0.15">2</text><text x="313.30" y="15.45" text-anchor="end" font-size="8.8" font-style="italic" stroke="#000" stroke-width="0.1">π</text>
<text x="323.15" y="28.10" text-anchor="end" font-size="8.3" stroke="#000" stroke-width="0.15">8</text><text x="313.30" y="25.70" text-anchor="end" font-size="8.8" font-style="italic" stroke="#000" stroke-width="0.1">π</text><text x="308.40" y="25.70" text-anchor="end" font-size="8.3" stroke="#000" stroke-width="0.15">3</text>
<text x="323.15" y="38.35" text-anchor="end" font-size="8.3" stroke="#000" stroke-width="0.15">4</text><text x="313.30" y="35.95" text-anchor="end" font-size="8.8" font-style="italic" stroke="#000" stroke-width="0.1">π</text>
<text x="323.15" y="48.60" text-anchor="end" font-size="8.3" stroke="#000" stroke-width="0.15">8</text><text x="313.30" y="46.20" text-anchor="end" font-size="8.8" font-style="italic" stroke="#000" stroke-width="0.1">π</text>
<text x="323.29999999999995" y="58.6" text-anchor="end" font-size="12.0">0</text>
<text x="323.09999999999997" y="68.95" text-anchor="end" font-size="11.8">direct</text>
<path transform="translate(283.3,59.8)" d="M0,0 H9.3 L9.9,2.7 H9.5 C9.2,1.3 8.4,0.7 6.8,0.7 H2.1 L6.0,5.6 L1.2,10.7 H7.0 C8.8,10.7 9.6,9.9 10.0,8.6 H10.4 L9.6,11.9 H0 V11.5 L4.7,6.2 L0,0.4 Z"/>
<text x="222.7" y="254.4" text-anchor="middle" font-size="14.25">Emission Angle <tspan font-style="italic">θ</tspan> in rad</text>
</g>
<g fill="#000" transform="translate(41.3,228) rotate(-90)">
<text x="-2.3" y="0" font-size="14.4">Dif<tspan dx="-1.6">f</tspan>erential Rate</text>
<text x="96.1" y="-3.3" font-size="8.8">d<tspan font-style="italic" font-size="9.6" dx="0.2">R</tspan></text>
<path d="M107.2,2.9 L113.4,-10.3" stroke="#000" stroke-width="0.8" fill="none"/>
<text x="113.0" y="-0.3" font-size="8.8">d<tspan font-style="italic" font-size="9.6" dx="0.5">θ</tspan></text>
<text x="127" y="0" font-size="14.4">in</text>
<text x="141.1" y="0.2" font-size="14.4">10</text>
<path d="M155.3,-8.4 h6.7" stroke="#000" stroke-width="0.8" fill="none"/>
<text x="163.8" y="-5.2" font-size="10.0">5</text>
<text x="172.0" y="0" font-size="14.4">s</text>
<path d="M179.1,-8.4 h6.7" stroke="#000" stroke-width="0.8" fill="none"/>
<text x="185.2" y="-5.2" font-size="10.0">1</text>
<text x="191.4" y="0" font-size="14.4">rad</text>
<path d="M211.5,-8.4 h6.7" stroke="#000" stroke-width="0.8" fill="none"/>
<text x="218.2" y="-5.2" font-size="10.0">1</text>
</g>
</svg>
</body></html>
